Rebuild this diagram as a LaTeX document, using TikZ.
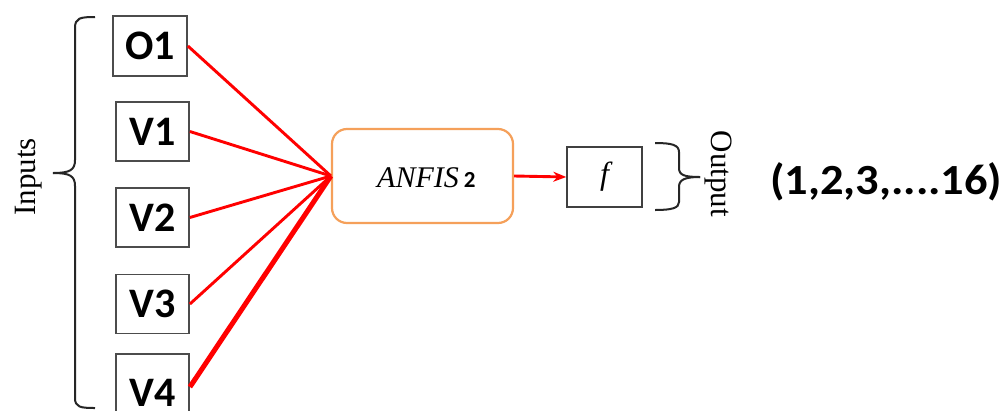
\documentclass[tikz,border=0pt]{standalone}
\usepackage{fontspec}
\setmainfont{Liberation Serif}
\newfontfamily\calib{Carlito}
\usetikzlibrary{arrows.meta}
\tikzset{
  inbox/.style={draw=black!70, line width=1.8pt, minimum width=73pt, minimum height=59pt, inner sep=0pt, font=\calib\bfseries\fontsize{42}{42}\selectfont},
  wire/.style={draw=red, line width=2.9pt},
  brace/.style={draw=black!85, line width=2pt},
  lab/.style={font=\fontsize{31}{31}\selectfont, inner sep=0pt}
}
\begin{document}
\begin{tikzpicture}[x=1pt,y=-1pt]
\useasboundingbox[fill=white] (0,0) rectangle (1003,410);
% input boxes
\node[inbox, minimum width=74pt, minimum height=60pt] (o1) at (150,46) {O1};
\node[inbox] (v1) at (152.5,131.5) {V1};
\node[inbox] (v2) at (152.5,217.5) {V2};
\node[inbox] (v3) at (152.5,304) {V3};
\node[inbox, minimum height=78pt] (v4) at (152.5,393) {V4};
% ANFIS
\node[draw={rgb,255:red,245;green,160;blue,90}, line width=2.2pt, rounded corners=15pt, minimum width=181pt, minimum height=94pt, inner sep=0pt] (anfis) at (422.5,176) {};
\node[inner sep=0pt, anchor=base west] (anfistxt) at (377,187) {\fontsize{30}{30}\selectfont\itshape ANFIS\,\calib\upshape\bfseries\fontsize{23}{23}\selectfont 2};
% f box
\node[draw=black!75, line width=1.5pt, minimum width=75pt, minimum height=60pt, inner sep=0pt, font=\fontsize{32}{32}\selectfont\itshape] (f) at (604.5,177) {f};
% wires
\draw[wire] (o1.east) -- (anfis.west);
\draw[wire] (v1.east) -- (anfis.west);
\draw[wire] (v2.east) -- (anfis.west);
\draw[wire] (v3.east) -- (anfis.west);
\draw[wire, line width=5pt] ([yshift=6pt]v4.east) -- (anfis.west);
\draw[wire, -{Stealth[length=13pt,width=10pt]}] (anfis.east) -- (f.west);
% left brace
\draw[brace] (95,17) .. controls (80,17) and (75,18) .. (75,28) -- (75,160) .. controls (75,170) and (70,173) .. (53,173);
\draw[brace] (53,173) .. controls (70,173) and (75,176) .. (75,186) -- (75,398) .. controls (75,407) and (80,408) .. (95,408);
\node[lab, rotate=90] (inputs) at (29,177) {Inputs};
% right brace
\draw[brace] (655,143) .. controls (672,143) and (679,145) .. (679,152) -- (679,168) .. controls (679,175) and (684,177) .. (700,177);
\draw[brace] (700,177) .. controls (684,177) and (679,180) .. (679,187) -- (679,202) .. controls (679,208) and (672,210) .. (655,210);
\node[lab, rotate=-90] (output) at (718,174) {Output};
% result
\node[inner sep=0pt, anchor=west, xscale=1.08, font=\calib\bfseries\fontsize{43}{43}\selectfont] (res) at (770,182) {(1,2,3,....16)};
\end{tikzpicture}
\end{document}
